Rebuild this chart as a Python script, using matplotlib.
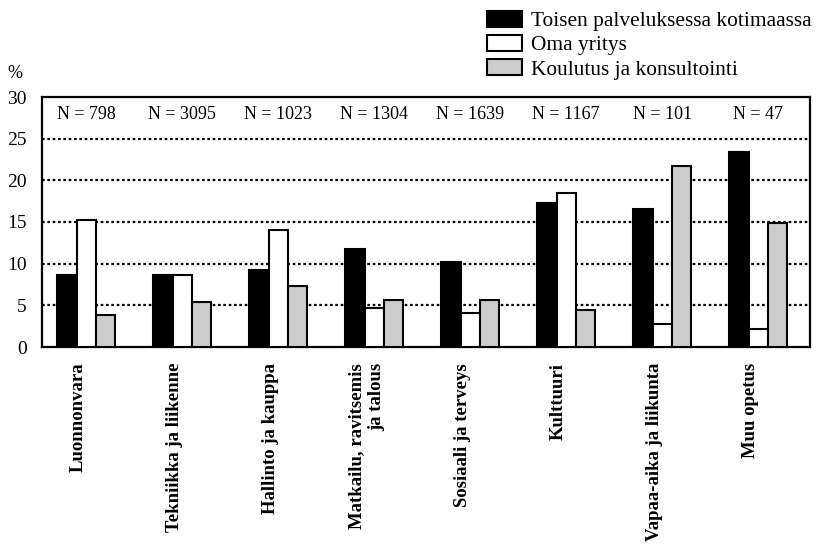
import matplotlib
matplotlib.use("Agg")
import matplotlib.pyplot as plt
import numpy as np

categories = ["Luonnonvara", "Tekniikka ja liikenne", "Hallinto ja kauppa",
              "Matkailu, ravitsemis\nja talous", "Sosiaali ja terveys", "Kulttuuri",
              "Vapaa-aika ja liikunta", "Muu opetus"]
n_labels = ["N = 798", "N = 3095", "N = 1023", "N = 1304", "N = 1639", "N = 1167", "N = 101", "N = 47"]
series_names = ["Toisen palveluksessa kotimaassa", "Oma yritys", "Koulutus ja konsultointi"]
toisen = [8.6, 8.6, 9.3, 11.8, 10.2, 17.3, 16.6, 23.4]
oma = [15.3, 8.6, 14.0, 4.7, 4.1, 18.5, 2.8, 2.2]
koulutus = [3.8, 5.4, 7.3, 5.7, 5.7, 4.4, 21.7, 14.9]
yticks = [0, 5, 10, 15, 20, 25, 30]

plt.rcParams['font.family'] = ['Liberation Serif', 'DejaVu Serif']

fig = plt.figure(figsize=(8.17, 5.49), dpi=100)
ax = fig.add_axes([42/817, 1-347/549, 768/817, 250/549])

x = np.arange(len(categories))
w = 0.2
colors = ['black', 'white', '#cccccc']
bars = []
for i, (vals, c, name) in enumerate(zip([toisen, oma, koulutus], colors, series_names)):
    b = ax.bar(x + (i-1)*w - 0.04, vals, width=w, color=c, edgecolor='black', linewidth=1.5,
               label=name, zorder=3)
    bars.append(b)

ax.set_xlim(-0.5, len(categories)-0.5)
ax.set_ylim(0, 30)
ax.set_yticks(yticks)
ax.set_yticklabels([str(t) for t in yticks], fontsize=14)
ax.tick_params(axis='y', length=0, pad=11)
ax.tick_params(axis='x', length=0)
ax.set_xticks([])
for ytk in yticks[1:-1]:
    ax.axhline(ytk, color='black', linestyle=(0, (1.2, 1.2)), linewidth=1.6, zorder=1)
for s in ax.spines.values():
    s.set_linewidth(1.6)

for xi, lab in zip(x, n_labels):
    ax.text(xi - 0.04, 27.9, lab, ha='center', va='center', fontsize=13)

for xi, lab in zip(x, categories):
    ax.text(xi - 0.12, -1.9, lab, rotation=90, ha='center', va='top', ma='right',
            fontsize=13.5, fontweight='bold', fontstretch='condensed')

fig.text(15/817, 1-73/549, "%", fontsize=13, ha='center', va='center')

fig.legend(handles=bars, labels=series_names, loc='upper left',
           bbox_to_anchor=(487/817, 1-11/549), frameon=False, fontsize=15.4,
           handlelength=1.65, handleheight=0.75, handletextpad=0.4, labelspacing=0.18,
           borderpad=0, borderaxespad=0)

fig.savefig("out.png", dpi=100)
